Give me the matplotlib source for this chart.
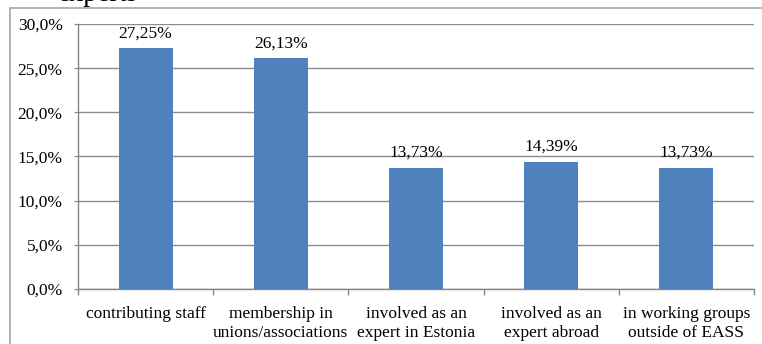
import matplotlib
matplotlib.use("Agg")
import matplotlib.pyplot as plt
from matplotlib.patches import Rectangle
from matplotlib.ticker import FuncFormatter, FixedLocator

plt.rcParams['font.family'] = ['Liberation Serif', 'DejaVu Serif']

categories = ["contributing staff", "membership in\nunions/associations",
              "involved as an\nexpert in Estonia", "involved as an\nexpert abroad",
              "in working groups\noutside of EASS"]
values = [27.25, 26.13, 13.73, 14.39, 13.73]
value_labels = ["27,25%", "26,13%", "13,73%", "14,39%", "13,73%"]
yticks = [0, 5, 10, 15, 20, 25, 30]

W, H = 762, 344
fig = plt.figure(figsize=(W / 100, H / 100), dpi=100)
ax = fig.add_axes([78 / W, (H - 289) / H, (754 - 78) / W, (289 - 24) / H])

# outer chart frame (cut off at right and bottom)
fig.patches.append(Rectangle((10 / W, -0.2), 1.2, (H - 8) / H + 0.2,
                             transform=fig.transFigure, fill=False,
                             edgecolor="#a6a6a6", linewidth=1.2, zorder=0))
# clipped title above the frame
fig.text(58 / W, (H - 1) / H, "experts", fontsize=20, ha="left", va="baseline")

x = range(len(categories))
bars = ax.bar(x, values, width=0.4, color="#4f81bd", zorder=3)
for i, b in enumerate(bars):
    ax.annotate(value_labels[i], (b.get_x() + b.get_width() / 2, b.get_height()),
                xytext=(0, 5), textcoords="offset points",
                ha="center", va="bottom", fontsize=12.5)

ax.set_xlim(-0.5, len(categories) - 0.5)
ax.set_ylim(0, 30)
ax.set_yticks(yticks)
ax.yaxis.set_major_formatter(FuncFormatter(lambda v, p: f"{v:.1f}%".replace(".", ",")))
ax.set_xticks(list(x))
ax.set_xticklabels(categories, fontsize=12.5, linespacing=1.3)
ax.xaxis.set_minor_locator(FixedLocator([i - 0.5 for i in range(len(categories) + 1)]))
ax.tick_params(axis="x", which="major", length=0, pad=12)
ax.tick_params(axis="x", which="minor", length=4, color="#868686", width=1)
ax.tick_params(axis="y", length=3, color="#868686", labelsize=12.5, pad=8)
ax.grid(axis="y", color="#8c8c8c", linewidth=1, zorder=0)
for s in ["top", "right"]:
    ax.spines[s].set_visible(False)
for s in ["left", "bottom"]:
    ax.spines[s].set_color("#868686")
    ax.spines[s].set_linewidth(1)

fig.savefig("out.png", dpi=100)
